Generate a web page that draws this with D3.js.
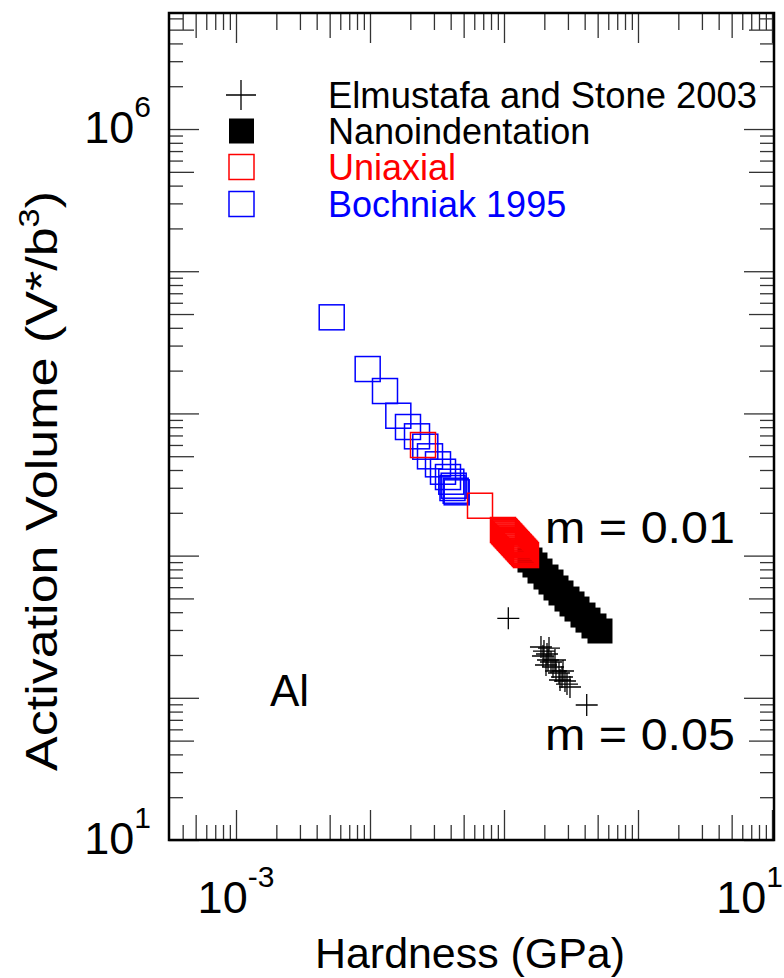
<!DOCTYPE html>
<html>
<head>
<meta charset="utf-8">
<script src="https://d3js.org/d3.v7.min.js"></script>
<style>
  body { margin: 0; background: #fff; }
  text { font-family: "Liberation Sans", Arial, sans-serif; }
</style>
</head>
<body>
<div id="vis"></div>
<script>
// Hardness (GPa) vs activation volume (b^3)
const bochniakH = [0.00518, 0.00961, 0.01294, 0.01627, 0.01921, 0.02243, 0.02586, 0.02804, 0.03217, 0.03506, 0.03820, 0.04043, 0.04127, 0.04213, 0.04361, 0.04436];
const bochniakV = [47400, 20520, 14370, 9634, 8025, 6902, 5833, 4993, 4385, 3890, 3570, 3309, 2988, 3102, 2860, 2787];

const uniaxialH = [0.02486, 0.06622, 0.0983, 0.1001, 0.1017, 0.1036, 0.1052, 0.1071, 0.1091, 0.1108, 0.1129, 0.1147, 0.1168, 0.1187, 0.1208, 0.1230, 0.1249, 0.1273, 0.1293, 0.1318, 0.1339, 0.1363, 0.1386, 0.1411, 0.1434, 0.1459];
const uniaxialV = [5995, 2243, 1514, 1486, 1462, 1435, 1412, 1385, 1363, 1337, 1316, 1291, 1270, 1246, 1226, 1203, 1184, 1161, 1143, 1121, 1103, 1082, 1065, 1045, 1028, 1009];

const nanoH = [0.1563, 0.1703, 0.1857, 0.2058, 0.2243, 0.2444, 0.2663, 0.2952, 0.3218, 0.3506, 0.3887, 0.4235, 0.4694, 0.5205];
const nanoV = [931, 859, 779, 707, 652, 592, 546, 495, 457, 421, 382, 352, 320, 295];

const elmH = [0.1077, 0.4143, 0.1888, 0.1988, 0.2167, 0.1954, 0.2094, 0.2131, 0.2243, 0.2402, 0.2058, 0.2321, 0.2444, 0.2573, 0.2756, 0.2709, 0.2852, 0.2618, 0.2952, 0.3108];
const elmV = [362, 89.0, 227.6, 213.3, 223.9, 196.8, 203.2, 184.5, 178.6, 184.5, 170.1, 164.7, 154.3, 149.4, 154.3, 140.1, 131.3, 133.4, 125.0, 119.1];

const legendNames = ["Elmustafa and Stone 2003", "Nanoindentation", "Uniaxial", "Bochniak 1995"];
const legendColors = ["#000", "#000", "#f00", "#00f"];

const xLabelValues = [1e-3, 10];
const xLabelExps = ["-3", "1"];
const yLabelValues = [10, 1e6];
const yLabelExps = ["1", "6"];

const W = 784, H = 978;
const mLeft = 169, mRight = 774, mTop = 13, mBottom = 840;

const svg = d3.select("#vis").append("svg")
  .attr("width", W).attr("height", H);

const x = d3.scaleLog().domain([Math.pow(10, -3.5), Math.pow(10, 1.015)]).range([mLeft, mRight]);
const y = d3.scaleLog().domain([10, Math.pow(10, 6.816)]).range([mBottom, mTop]);

// tick values: decades get long ticks, 5s medium, the rest short
function logTicks(scale) {
  let [a, b] = scale.domain();
  let out = {major: [], mid: [], minor: []};
  for (let e = Math.floor(Math.log10(a)); e <= Math.ceil(Math.log10(b)); e++) {
    for (let k = 1; k <= 9; k++) {
      let v = k * Math.pow(10, e);
      if (v < a * 0.999 || v > b * 1.001) continue;
      if (k == 1) out.major.push(v);
      else if (k == 5) out.mid.push(v);
      else out.minor.push(v);
    }
  }
  return out;
}
const xt = logTicks(x), yt = logTicks(y);
const sizes = {major: 30, mid: 25, minor: 15};

for (let kind of ["major", "mid", "minor"]) {
  let s = sizes[kind];
  svg.append("g").attr("class", "tick-axis").attr("transform", `translate(0,${mBottom})`)
    .call(d3.axisBottom(x).tickValues(xt[kind]).tickSize(-s).tickFormat(""));
  svg.append("g").attr("class", "tick-axis").attr("transform", `translate(0,${mTop})`)
    .call(d3.axisTop(x).tickValues(xt[kind]).tickSize(-(kind == "minor" ? 17 : s)).tickFormat(""));
  svg.append("g").attr("class", "tick-axis").attr("transform", `translate(${mLeft},0)`)
    .call(d3.axisLeft(y).tickValues(yt[kind]).tickSize(-(kind == "minor" ? 14 : s)).tickFormat(""));
  svg.append("g").attr("class", "tick-axis").attr("transform", `translate(${mRight},0)`)
    .call(d3.axisRight(y).tickValues(yt[kind]).tickSize(-(kind == "minor" ? 14 : s)).tickFormat(""));
}
svg.selectAll(".tick-axis .domain").remove();
svg.selectAll(".tick-axis line").attr("stroke", "#333").attr("stroke-width", 1.3);

// frame
svg.append("rect")
  .attr("x", mLeft).attr("y", mTop)
  .attr("width", mRight - mLeft).attr("height", mBottom - mTop)
  .attr("fill", "none").attr("stroke", "#000").attr("stroke-width", 2.5);

// tick labels with superscripts
xLabelValues.forEach((v, i) => {
  let last = i == xLabelValues.length - 1;
  let t = svg.append("text")
    .attr("x", last ? 783 : x(v)).attr("y", 913)
    .attr("text-anchor", last ? "end" : "middle")
    .attr("font-size", 45);
  t.append("tspan").text("10");
  t.append("tspan").attr("font-size", 30).attr("dy", -26).text(xLabelExps[i]);
});
yLabelValues.forEach((v, i) => {
  let t = svg.append("text")
    .attr("x", 151).attr("y", y(v) + 14)
    .attr("text-anchor", "end")
    .attr("font-size", 45);
  t.append("tspan").text("10");
  t.append("tspan").attr("font-size", 30).attr("dy", -26).text(yLabelExps[i]);
});

// axis titles
svg.append("text")
  .attr("x", 470).attr("y", 968)
  .attr("text-anchor", "middle")
  .attr("font-size", 42)
  .attr("textLength", 310).attr("lengthAdjust", "spacingAndGlyphs")
  .text("Hardness (GPa)");

let yt1 = svg.append("text")
  .attr("transform", "translate(57,481) rotate(-90)")
  .attr("text-anchor", "middle")
  .attr("font-size", 44)
  .attr("textLength", 580).attr("lengthAdjust", "spacingAndGlyphs");
yt1.append("tspan").text("Activation Volume (V*/b");
yt1.append("tspan").attr("font-size", 29).attr("dy", -18).text("3");
yt1.append("tspan").attr("dy", 18).text(")");

// series
const half = 12.5;
svg.append("g").selectAll("rect")
  .data(bochniakH.map((h, i) => [h, bochniakV[i]]))
  .join("rect")
  .attr("x", d => x(d[0]) - half).attr("y", d => y(d[1]) - half)
  .attr("width", 2 * half).attr("height", 2 * half)
  .attr("fill", "none").attr("stroke", "#00f").attr("stroke-width", 1.5);

svg.append("g").selectAll("rect")
  .data(nanoH.map((h, i) => [h, nanoV[i]]))
  .join("rect")
  .attr("x", d => x(d[0]) - half).attr("y", d => y(d[1]) - half)
  .attr("width", 2 * half).attr("height", 2 * half)
  .attr("fill", "#000");

svg.append("g").selectAll("rect")
  .data(uniaxialH.map((h, i) => [h, uniaxialV[i]]))
  .join("rect")
  .attr("x", d => x(d[0]) - half).attr("y", d => y(d[1]) - half)
  .attr("width", 2 * half).attr("height", 2 * half)
  .attr("fill", "none").attr("stroke", "#f00").attr("stroke-width", 1.5);

function plusPath(r) {
  return `M${-r},0H${r}M0,${-r}V${r}`;
}
svg.append("g").selectAll("path")
  .data(elmH.map((h, i) => [h, elmV[i]]))
  .join("path")
  .attr("transform", d => `translate(${x(d[0])},${y(d[1])})`)
  .attr("d", plusPath(11))
  .attr("stroke", "#000").attr("stroke-width", 1.3).attr("fill", "none");

// legend
const legY = [95, 131, 167, 204];
const lg = svg.append("g");
lg.append("path").attr("transform", `translate(241,${legY[0]})`)
  .attr("d", plusPath(15)).attr("stroke", "#000").attr("stroke-width", 1.3);
lg.append("rect").attr("x", 229).attr("y", legY[1] - 12.5).attr("width", 25).attr("height", 25).attr("fill", "#000");
lg.append("rect").attr("x", 229).attr("y", legY[2] - 12.5).attr("width", 25).attr("height", 25)
  .attr("fill", "none").attr("stroke", "#f00").attr("stroke-width", 1.5);
lg.append("rect").attr("x", 229).attr("y", legY[3] - 12.5).attr("width", 25).attr("height", 25)
  .attr("fill", "none").attr("stroke", "#00f").attr("stroke-width", 1.5);
legendNames.forEach((n, i) => {
  let t = lg.append("text").attr("x", 328).attr("y", legY[i] + 13)
    .attr("font-size", 36).attr("fill", legendColors[i]).text(n);
  if (i == 0) t.attr("textLength", 429).attr("lengthAdjust", "spacingAndGlyphs");
});

// annotations
svg.append("text").attr("x", 545).attr("y", 543).attr("font-size", 44)
  .attr("textLength", 190).attr("lengthAdjust", "spacingAndGlyphs").text("m = 0.01");
svg.append("text").attr("x", 545).attr("y", 750).attr("font-size", 44)
  .attr("textLength", 190).attr("lengthAdjust", "spacingAndGlyphs").text("m = 0.05");
svg.append("text").attr("x", 270).attr("y", 706).attr("font-size", 44).text("Al");
</script>
</body>
</html>
